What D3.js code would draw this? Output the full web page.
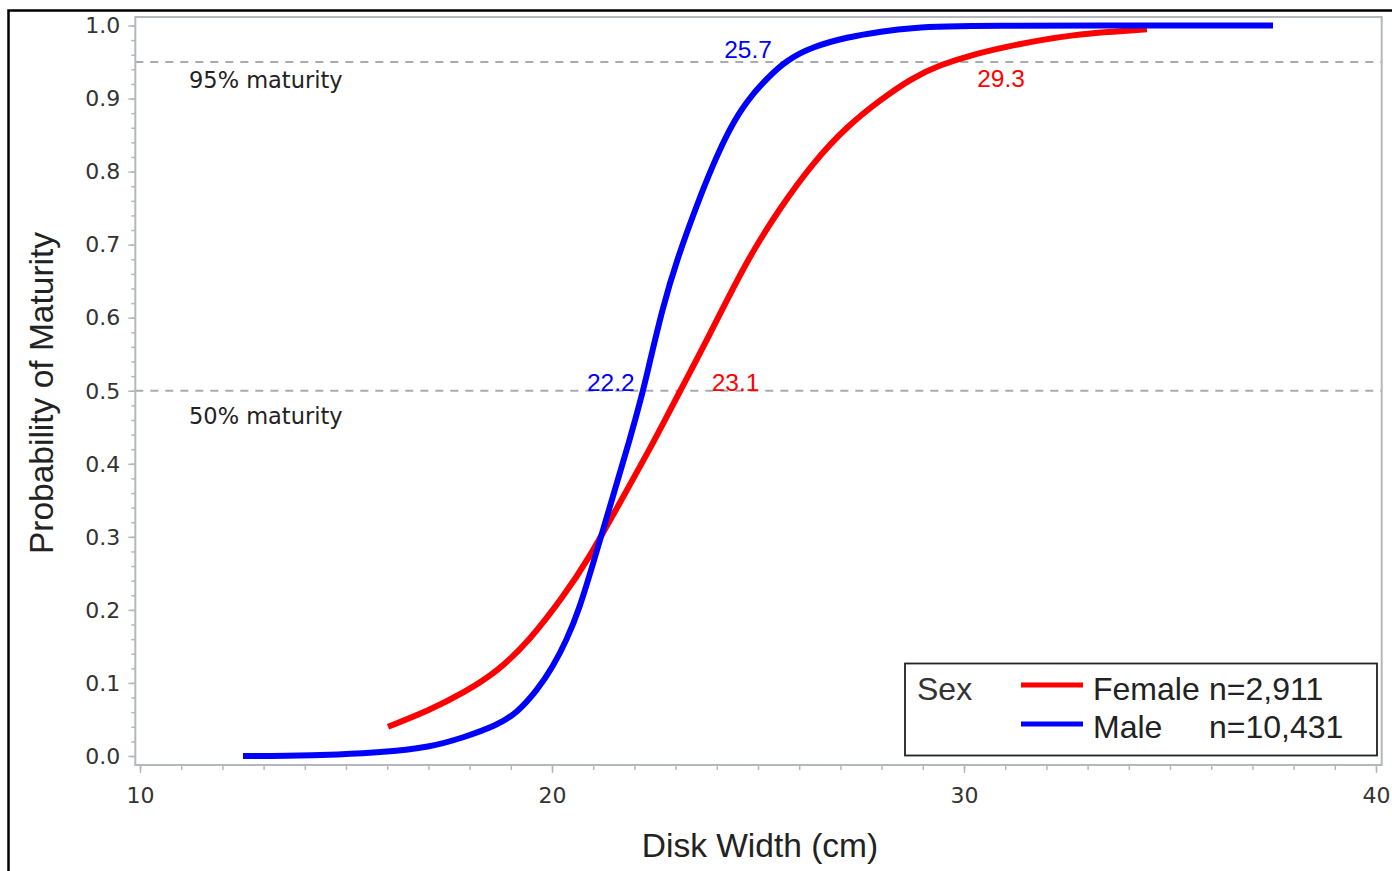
<!DOCTYPE html>
<html>
<head>
<meta charset="utf-8">
<script src="https://cdn.jsdelivr.net/npm/d3@7"></script>
<style>
  html, body { margin: 0; padding: 0; background: #fff; overflow: hidden; }
  svg { display: block; }
</style>
</head>
<body>
<svg id="chart" width="1392" height="871"></svg>
<script>
// ---------------- data ----------------
const maleX = [12.5, 13.5, 14.85, 15.9, 17.04, 17.84, 18.67, 19.15, 19.64, 20.02, 20.36, 20.68, 21.0, 21.45, 21.89, 22.21, 22.31, 22.69, 23.03, 23.52, 23.91, 24.32, 24.73, 25.22, 25.70, 26.33, 27.16, 28.0, 28.76, 29.85, 37.5];
const maleP = [0.000, 0.000, 0.002, 0.005, 0.012, 0.025, 0.042, 0.059, 0.090, 0.122, 0.159, 0.204, 0.264, 0.350, 0.433, 0.500, 0.524, 0.615, 0.679, 0.755, 0.810, 0.860, 0.897, 0.928, 0.953, 0.971, 0.984, 0.992, 0.997, 1.000, 1.000];
const femaleX = [16.02, 17.04, 17.84, 18.67, 19.47, 20.27, 20.87, 21.7, 22.5, 23.11, 23.76, 24.73, 25.53, 26.33, 27.16, 27.96, 28.76, 29.42, 30.2, 31.04, 31.84, 32.65, 33.47, 34.44];
const femaleP = [0.040, 0.063, 0.086, 0.115, 0.159, 0.218, 0.268, 0.352, 0.433, 0.500, 0.569, 0.679, 0.750, 0.812, 0.862, 0.898, 0.929, 0.946, 0.960, 0.971, 0.980, 0.987, 0.991, 0.995];

const seriesNames = ["Female", "Male"];
const seriesN = ["n=2,911", "n=10,431"];
const seriesColors = ["#ff0000", "#0000ff"];

const xTicks = [10, 20, 30, 40];
const yTicks = [0.0, 0.1, 0.2, 0.3, 0.4, 0.5, 0.6, 0.7, 0.8, 0.9, 1.0];
const refLevels = [0.95, 0.5];
const refLabels = ["95% maturity", "50% maturity"];

// maturity points: [series index, disk width, probability]
const matSeries = [1, 0, 1, 0];
const matWidth = [22.2, 23.1, 25.7, 29.3];
const matProb = [0.5, 0.5, 0.95, 0.95];

// ---------------- layout ----------------
const svg = d3.select("#chart");
const frame = { left: 135.3, top: 17, right: 1381.7, bottom: 765 };
const x = d3.scaleLinear().domain([10, 40]).range([140, 1376]);
const y = d3.scaleLinear().domain([0, 1]).range([756, 25.5]);

const axisColor = "#b4b8bc";
const tickFont = "'DejaVu Sans', sans-serif";
const titleFont = "'Liberation Sans', Arial, sans-serif";

// outer border
svg.append("rect")
  .attr("x", 8.5).attr("y", 10.5).attr("width", 1420).attr("height", 900)
  .attr("fill", "none").attr("stroke", "#000").attr("stroke-width", 2.5);

// reference lines
svg.append("g").selectAll("line").data(refLevels).join("line")
  .attr("x1", frame.left).attr("x2", frame.right)
  .attr("y1", d => y(d)).attr("y2", d => y(d))
  .attr("stroke", "#a8acb0").attr("stroke-width", 2)
  .attr("stroke-dasharray", "8,7");

// reference labels
const refDy = [26, 33];
svg.append("g").selectAll("text").data(refLevels).join("text")
  .attr("x", 189).attr("y", (d, i) => y(d) + refDy[i])
  .attr("font-family", tickFont).attr("font-size", 22.5).attr("fill", "#222")
  .text((d, i) => refLabels[i]);

// curves
const line = d3.line().x(d => x(d[0])).y(d => y(d[1])).curve(d3.curveBasis);
const femaleData = femaleX.map((v, i) => [v, femaleP[i]]);
const maleData = maleX.map((v, i) => [v, maleP[i]]);
[femaleData, maleData].forEach((data, i) => {
  svg.append("path").datum(data)
    .attr("d", line)
    .attr("fill", "none")
    .attr("stroke", seriesColors[i])
    .attr("stroke-width", 6)
    .attr("stroke-linejoin", "round");
});

// maturity labels
const labelDx = [-8, 32, -15, 42];
const labelDy = [0, 0, -4, 25];
const labelAnchor = ["end", "start", "end", "start"];
svg.append("g").selectAll("text").data(matWidth).join("text")
  .attr("x", (d, i) => x(d) + labelDx[i])
  .attr("y", (d, i) => y(matProb[i]) + labelDy[i])
  .attr("text-anchor", (d, i) => labelAnchor[i])
  .attr("font-family", titleFont).attr("font-size", 24.5)
  .attr("fill", (d, i) => seriesColors[matSeries[i]])
  .text(d => d.toFixed(1));

// frame
svg.append("rect")
  .attr("x", frame.left).attr("y", frame.top)
  .attr("width", frame.right - frame.left).attr("height", frame.bottom - frame.top)
  .attr("fill", "none").attr("stroke", axisColor).attr("stroke-width", 2);

// y axis
const yMinor = d3.range(0, 1.0001, 0.02);
const yAxisMinor = svg.append("g").attr("transform", `translate(${frame.left},0)`)
  .call(d3.axisLeft(y).tickValues(yMinor).tickSize(4).tickFormat(""));
const yAxis = svg.append("g").attr("transform", `translate(${frame.left},0)`)
  .call(d3.axisLeft(y).tickValues(yTicks).tickSize(7).tickPadding(8).tickFormat(d3.format(".1f")));
[yAxisMinor, yAxis].forEach(g => {
  g.select(".domain").remove();
  g.selectAll("line").attr("stroke", axisColor).attr("stroke-width", 1.5);
});
yAxis.selectAll("text")
  .attr("font-family", tickFont).attr("font-size", 22).attr("fill", "#333")
  .attr("dy", "0.33em");

// x axis
const xMinor = d3.range(10, 40.001, 1);
const xAxisMinor = svg.append("g").attr("transform", `translate(0,${frame.bottom})`)
  .call(d3.axisBottom(x).tickValues(xMinor).tickSize(5).tickFormat(""));
const xAxis = svg.append("g").attr("transform", `translate(0,${frame.bottom})`)
  .call(d3.axisBottom(x).tickValues(xTicks).tickSize(8).tickFormat(d3.format("d")));
[xAxisMinor, xAxis].forEach(g => {
  g.select(".domain").remove();
  g.selectAll("line").attr("stroke", axisColor).attr("stroke-width", 1.5);
});
xAxis.selectAll("text")
  .attr("font-family", tickFont).attr("font-size", 22).attr("fill", "#333")
  .attr("y", 38).attr("dy", 0);

// axis titles
svg.append("text")
  .attr("x", 760).attr("y", 857)
  .attr("text-anchor", "middle")
  .attr("font-family", titleFont).attr("font-size", 33.5).attr("fill", "#222")
  .text("Disk Width (cm)");
svg.append("text")
  .attr("transform", `translate(53,393) rotate(-90)`)
  .attr("text-anchor", "middle")
  .attr("font-family", titleFont).attr("font-size", 33.5).attr("fill", "#222")
  .text("Probability of Maturity");

// legend
const lg = svg.append("g");
lg.append("rect")
  .attr("x", 905).attr("y", 663.5).attr("width", 472).attr("height", 92)
  .attr("fill", "#fff").attr("stroke", "#222").attr("stroke-width", 1.8);
lg.append("text")
  .attr("x", 917).attr("y", 700)
  .attr("font-family", titleFont).attr("font-size", 32).attr("fill", "#333")
  .text("Sex");
const rowY = [685, 724];
const baseY = [700, 738];
seriesNames.forEach((name, i) => {
  lg.append("line")
    .attr("x1", 1021).attr("x2", 1083)
    .attr("y1", rowY[i]).attr("y2", rowY[i])
    .attr("stroke", seriesColors[i]).attr("stroke-width", 5);
  lg.append("text")
    .attr("x", 1093).attr("y", baseY[i])
    .attr("font-family", titleFont).attr("font-size", 32).attr("fill", "#222")
    .text(name);
  lg.append("text")
    .attr("x", 1209).attr("y", baseY[i])
    .attr("font-family", titleFont).attr("font-size", 32).attr("fill", "#222")
    .text(seriesN[i]);
});
</script>
</body>
</html>
